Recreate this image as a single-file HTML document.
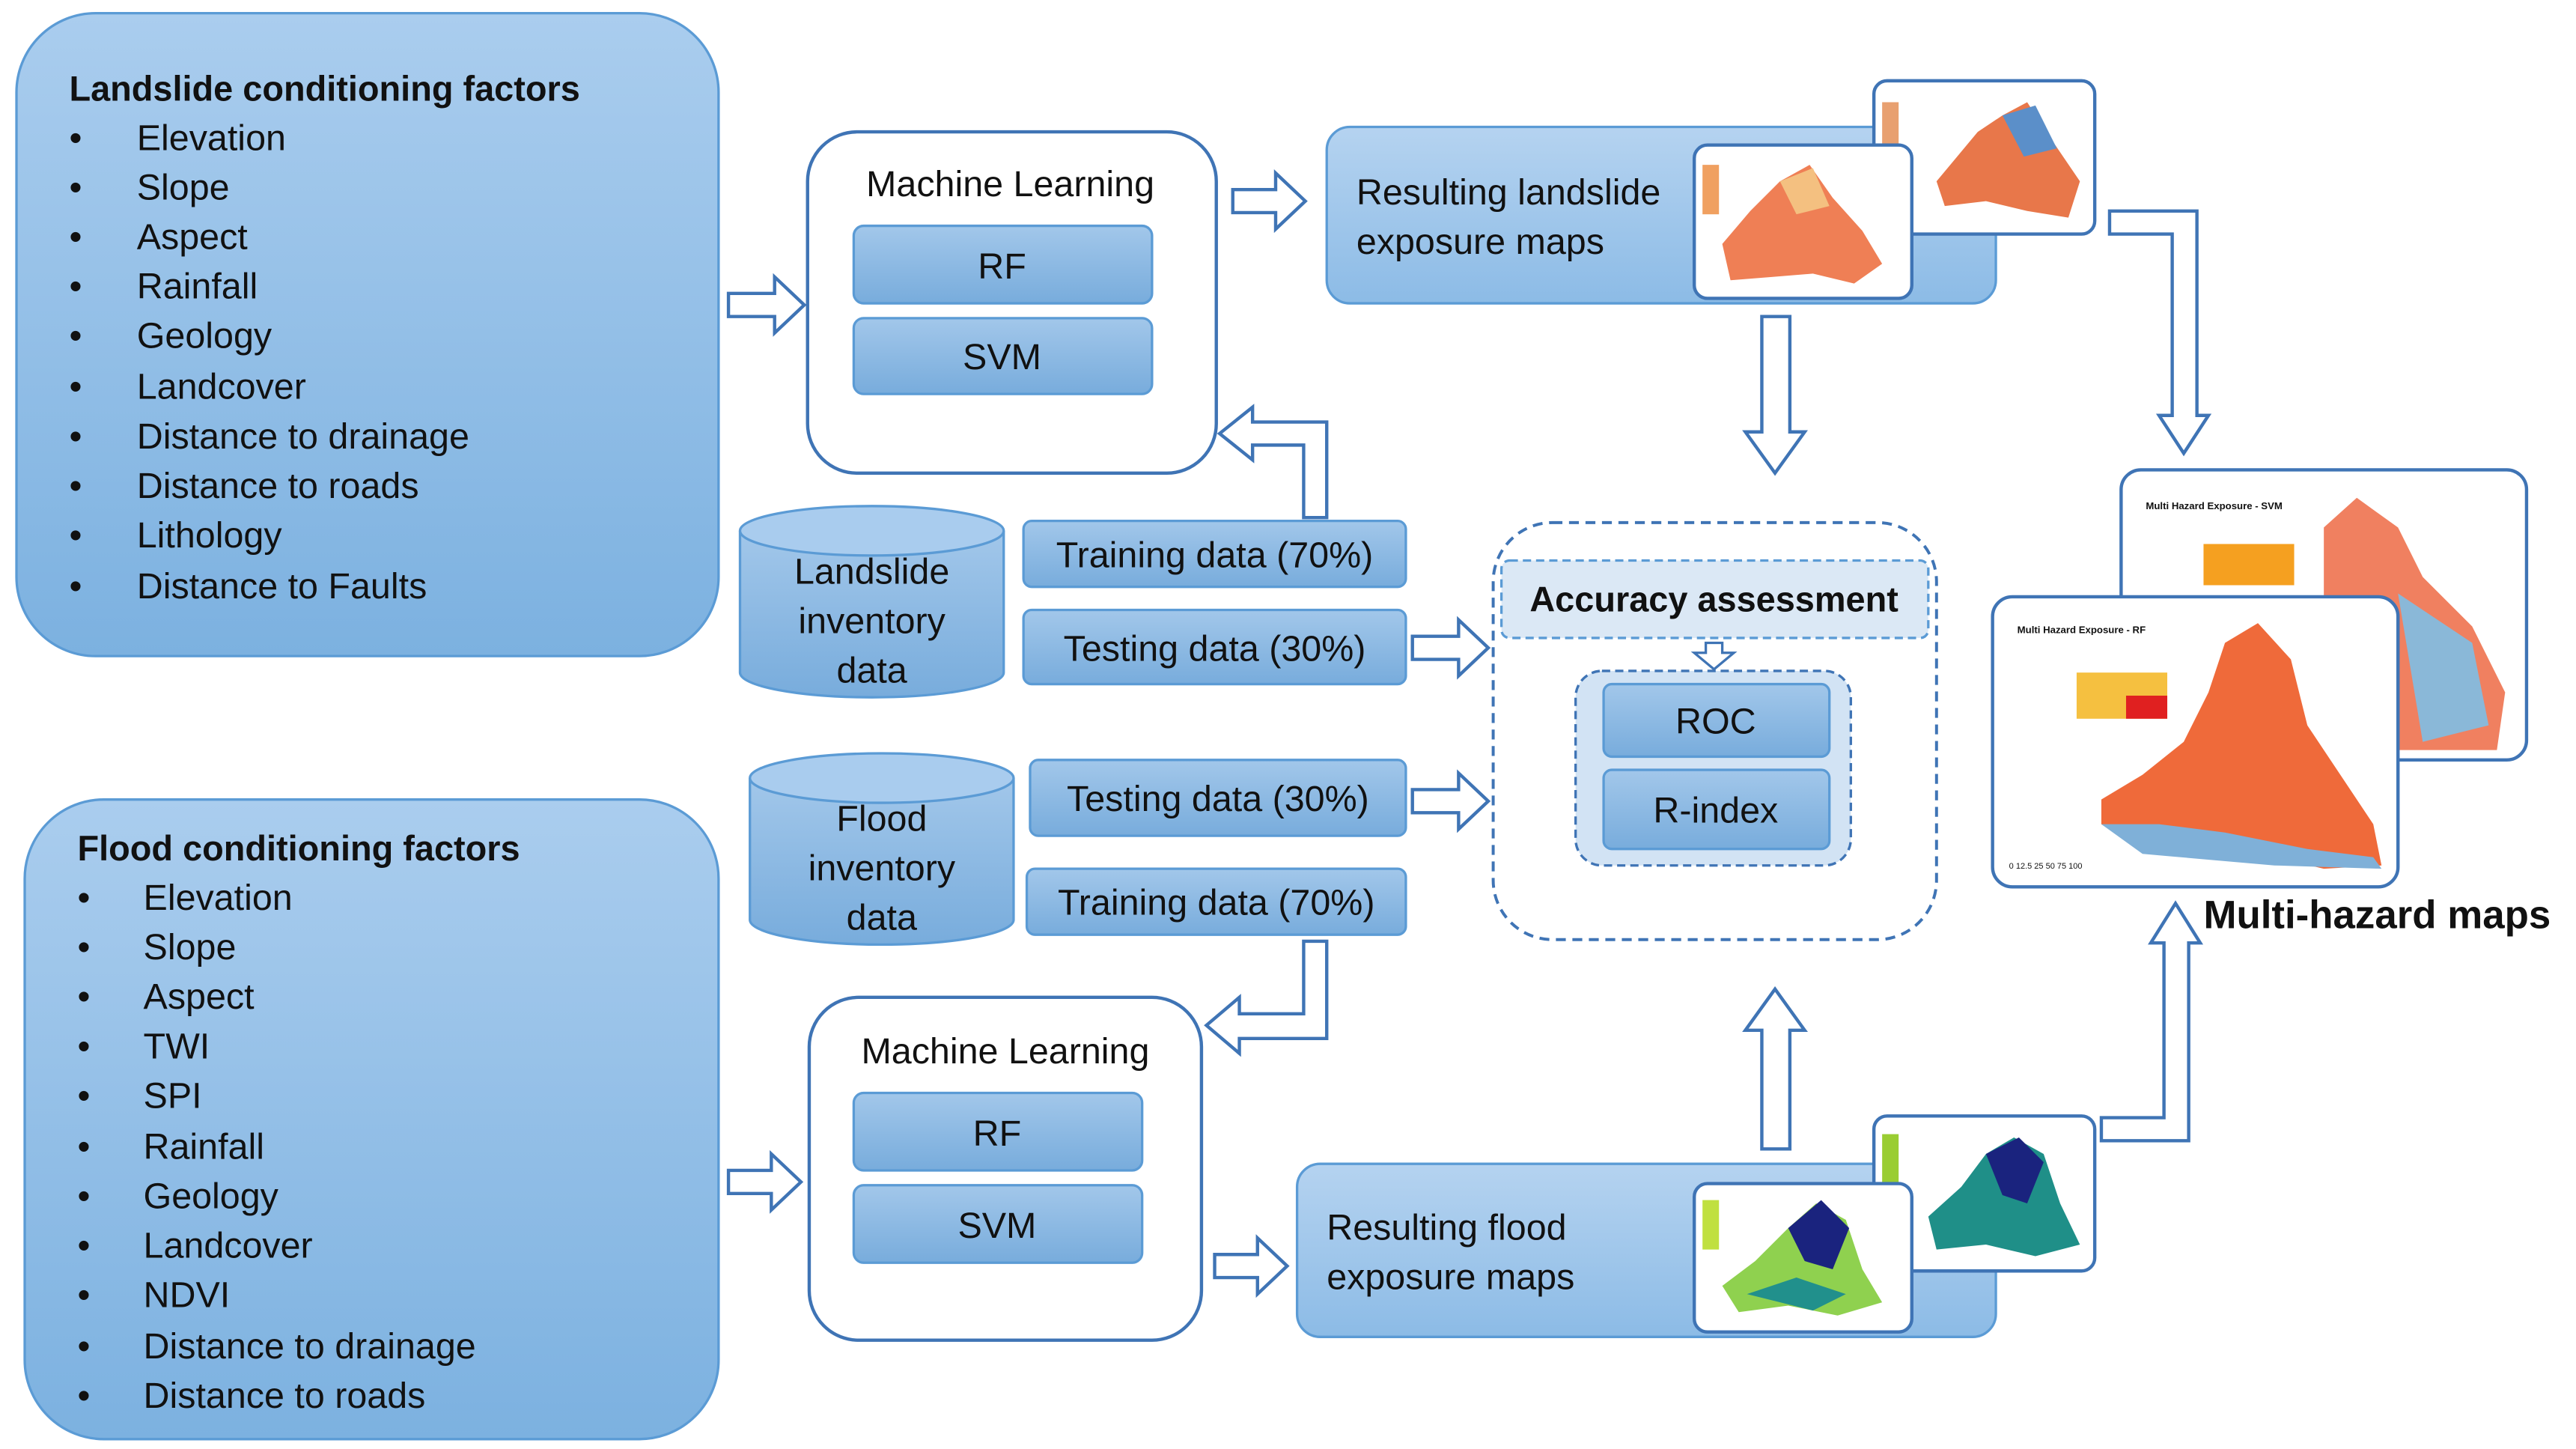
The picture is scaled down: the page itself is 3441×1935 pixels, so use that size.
<!DOCTYPE html>
<html><head><meta charset="utf-8"><style>
html,body{margin:0;padding:0;background:#fff;}
svg{display:block;}
text{font-family:"Liberation Sans",sans-serif;fill:#111;}
</style></head><body>
<svg width="3441" height="1935" viewBox="0 0 1563 879" preserveAspectRatio="none" xmlns="http://www.w3.org/2000/svg">
<defs>
<linearGradient id="g1" x1="0" y1="0" x2="0" y2="1"><stop offset="0" stop-color="#aacdee"/><stop offset="1" stop-color="#7cb1e0"/></linearGradient>
<linearGradient id="g2" x1="0" y1="0" x2="0" y2="1"><stop offset="0" stop-color="#a2c7ea"/><stop offset="1" stop-color="#78acdc"/></linearGradient>
<linearGradient id="g3" x1="0" y1="0" x2="0" y2="1"><stop offset="0" stop-color="#b5d3f0"/><stop offset="1" stop-color="#8cbbe6"/></linearGradient>
</defs>
<style>
.big{font-size:22px;}
.ttl{font-size:21.3px;font-weight:bold;}
.hol{fill:#fff;stroke:#3f74b5;stroke-width:2;}
.bx{stroke:#5b9bd5;stroke-width:1.5;}
</style>

<rect x="10" y="8" width="426" height="390" rx="48" fill="url(#g1)" class="bx"/>
<text x="42" y="61" class="ttl">Landslide conditioning factors</text>
<g class="big">
<text x="42" y="91">•</text><text x="83" y="91">Elevation</text>
<text x="42" y="121">•</text><text x="83" y="121">Slope</text>
<text x="42" y="151">•</text><text x="83" y="151">Aspect</text>
<text x="42" y="181">•</text><text x="83" y="181">Rainfall</text>
<text x="42" y="211">•</text><text x="83" y="211">Geology</text>
<text x="42" y="242">•</text><text x="83" y="242">Landcover</text>
<text x="42" y="272">•</text><text x="83" y="272">Distance to drainage</text>
<text x="42" y="302">•</text><text x="83" y="302">Distance to roads</text>
<text x="42" y="332">•</text><text x="83" y="332">Lithology</text>
<text x="42" y="363">•</text><text x="83" y="363">Distance to Faults</text>
</g>

<rect x="15" y="485" width="421" height="388" rx="48" fill="url(#g1)" class="bx"/>
<text x="47" y="522" class="ttl">Flood conditioning factors</text>
<g class="big">
<text x="47" y="552">•</text><text x="87" y="552">Elevation</text>
<text x="47" y="582">•</text><text x="87" y="582">Slope</text>
<text x="47" y="612">•</text><text x="87" y="612">Aspect</text>
<text x="47" y="642">•</text><text x="87" y="642">TWI</text>
<text x="47" y="672">•</text><text x="87" y="672">SPI</text>
<text x="47" y="703">•</text><text x="87" y="703">Rainfall</text>
<text x="47" y="733">•</text><text x="87" y="733">Geology</text>
<text x="47" y="763">•</text><text x="87" y="763">Landcover</text>
<text x="47" y="793">•</text><text x="87" y="793">NDVI</text>
<text x="47" y="824">•</text><text x="87" y="824">Distance to drainage</text>
<text x="47" y="854">•</text><text x="87" y="854">Distance to roads</text>
</g>

<polygon class="hol" points="442,178 470,178 470,168 488,185 470,202 470,192 442,192"/>
<polygon class="hol" points="442,710 468,710 468,700 486,717 468,734 468,724 442,724"/>
<polygon class="hol" points="748,115 774,115 774,105 792,122 774,139 774,129 748,129"/>
<polygon class="hol" points="737,761 763,761 763,751 781,768 763,785 763,775 737,775"/>
<polygon class="hol" points="857,386 885,386 885,376 903,393 885,410 885,400 857,400"/>
<polygon class="hol" points="857,479 885,479 885,469 903,486 885,503 885,493 857,493"/>

<rect x="490" y="80" width="248" height="207" rx="30" fill="#fff" stroke="#3f74b5" stroke-width="2"/>
<text x="613" y="119" class="big" text-anchor="middle">Machine Learning</text>
<rect x="518" y="137" width="181" height="47" rx="6" fill="url(#g2)" class="bx"/>
<text x="608" y="169" class="big" text-anchor="middle">RF</text>
<rect x="518" y="193" width="181" height="46" rx="6" fill="url(#g2)" class="bx"/>
<text x="608" y="224" class="big" text-anchor="middle">SVM</text>

<rect x="491" y="605" width="238" height="208" rx="30" fill="#fff" stroke="#3f74b5" stroke-width="2"/>
<text x="610" y="645" class="big" text-anchor="middle">Machine Learning</text>
<rect x="518" y="663" width="175" height="47" rx="6" fill="url(#g2)" class="bx"/>
<text x="605" y="695" class="big" text-anchor="middle">RF</text>
<rect x="518" y="719" width="175" height="47" rx="6" fill="url(#g2)" class="bx"/>
<text x="605" y="751" class="big" text-anchor="middle">SVM</text>

<polygon class="hol" points="805,314 791,314 791,270 760,270 760,279 740,263 760,247 760,256 805,256"/>
<polygon class="hol" points="791,571 805,571 805,630 752,630 752,639 732,622 752,605 752,615 791,615"/>

<g>
<path d="M449,322 L449,408 A80,15 0 0 0 609,408 L609,322" fill="url(#g2)" class="bx"/>
<ellipse cx="529" cy="322" rx="80" ry="15" fill="#a9ccee" class="bx"/>
<text x="529" y="354" class="big" text-anchor="middle">Landslide</text>
<text x="529" y="384" class="big" text-anchor="middle">inventory</text>
<text x="529" y="414" class="big" text-anchor="middle">data</text>
</g>
<g>
<path d="M455,472 L455,558 A80,15 0 0 0 615,558 L615,472" fill="url(#g2)" class="bx"/>
<ellipse cx="535" cy="472" rx="80" ry="15" fill="#a9ccee" class="bx"/>
<text x="535" y="504" class="big" text-anchor="middle">Flood</text>
<text x="535" y="534" class="big" text-anchor="middle">inventory</text>
<text x="535" y="564" class="big" text-anchor="middle">data</text>
</g>

<rect x="621" y="316" width="232" height="40" rx="5" fill="url(#g2)" class="bx"/>
<text x="737" y="344" class="big" text-anchor="middle">Training data (70%)</text>
<rect x="621" y="370" width="232" height="45" rx="5" fill="url(#g2)" class="bx"/>
<text x="737" y="401" class="big" text-anchor="middle">Testing data (30%)</text>
<rect x="625" y="461" width="228" height="46" rx="5" fill="url(#g2)" class="bx"/>
<text x="739" y="492" class="big" text-anchor="middle">Testing data (30%)</text>
<rect x="623" y="527" width="230" height="40" rx="5" fill="url(#g2)" class="bx"/>
<text x="738" y="555" class="big" text-anchor="middle">Training data (70%)</text>

<rect x="906" y="317" width="269" height="253" rx="36" fill="#fff" stroke="#3f74b5" stroke-width="1.8" stroke-dasharray="6,4"/>
<rect x="911" y="340" width="259" height="47" rx="5" fill="#dbe8f5" stroke="#5b9bd5" stroke-width="1.5" stroke-dasharray="5,3"/>
<text x="1040" y="371" class="ttl" text-anchor="middle">Accuracy assessment</text>
<polygon class="hol" points="1035,390 1045,390 1045,396 1052,396 1040,406 1028,396 1035,396" style="stroke-width:1.5"/>
<rect x="956" y="407" width="167" height="118" rx="16" fill="#d2e3f4" stroke="#3f74b5" stroke-width="1.5" stroke-dasharray="5,3"/>
<rect x="973" y="415" width="137" height="44" rx="5" fill="url(#g2)" class="bx"/>
<text x="1041" y="445" class="big" text-anchor="middle">ROC</text>
<rect x="973" y="467" width="137" height="48" rx="5" fill="url(#g2)" class="bx"/>
<text x="1041" y="499" class="big" text-anchor="middle">R-index</text>

<polygon class="hol" points="1069,192 1086,192 1086,262 1095,262 1077,287 1059,262 1069,262"/>
<polygon class="hol" points="1069,697 1086,697 1086,625 1095,625 1077,600 1059,625 1069,625"/>
<polygon class="hol" points="1280,128 1333,128 1333,252 1340,252 1325,275 1310,252 1318,252 1318,142 1280,142"/>
<polygon class="hol" points="1275,692 1328,692 1328,572 1335,572 1320,548 1305,572 1313,572 1313,678 1275,678"/>

<rect x="805" y="77" width="406" height="107" rx="14" fill="url(#g3)" class="bx"/>
<text x="823" y="124" class="big">Resulting landslide</text>
<text x="823" y="154" class="big">exposure maps</text>
<rect x="787" y="706" width="424" height="105" rx="14" fill="url(#g3)" class="bx"/>
<text x="805" y="752" class="big">Resulting flood</text>
<text x="805" y="782" class="big">exposure maps</text>

<g>
<rect x="1137" y="49" width="134" height="93" rx="8" fill="#fff" stroke="#3f74b5" stroke-width="2"/>
<path d="M1185,98 L1200,80 L1215,70 L1230,62 L1245,85 L1262,110 L1255,132 L1230,128 L1205,122 L1180,125 L1175,110 Z" fill="#e8774a"/>
<path d="M1215,70 L1235,64 L1248,90 L1228,95 Z" fill="#5b8fc9"/>
<rect x="1142" y="62" width="10" height="30" fill="#e8a070"/>
<rect x="1028" y="88" width="132" height="93" rx="8" fill="#fff" stroke="#3f74b5" stroke-width="2"/>
<path d="M1045,148 L1062,128 L1080,110 L1098,100 L1112,120 L1130,140 L1142,160 L1125,172 L1100,166 L1075,168 L1050,170 Z" fill="#ef7f55"/>
<path d="M1080,110 L1100,102 L1110,125 L1090,130 Z" fill="#f4c080"/>
<rect x="1033" y="100" width="10" height="30" fill="#f0a060"/>
</g>
<g>
<rect x="1137" y="677" width="134" height="94" rx="8" fill="#fff" stroke="#3f74b5" stroke-width="2"/>
<path d="M1170,738 L1190,720 L1205,700 L1222,690 L1240,700 L1250,730 L1262,755 L1235,762 L1205,755 L1175,758 Z" fill="#1f8f88"/>
<path d="M1205,700 L1225,690 L1240,705 L1230,730 L1215,725 Z" fill="#1a237e"/>
<rect x="1142" y="688" width="10" height="30" fill="#9acd32"/>
<rect x="1028" y="718" width="132" height="90" rx="8" fill="#fff" stroke="#3f74b5" stroke-width="2"/>
<path d="M1045,780 L1065,765 L1085,745 L1102,730 L1120,740 L1130,770 L1142,790 L1115,798 L1085,792 L1055,796 Z" fill="#8fd14f"/>
<path d="M1085,745 L1105,728 L1122,745 L1112,770 L1095,765 Z" fill="#1a237e"/>
<path d="M1060,785 L1090,775 L1120,785 L1100,795 Z" fill="#21908c"/>
<rect x="1033" y="728" width="10" height="30" fill="#c0e040"/>
</g>

<g>
<rect x="1287" y="285" width="246" height="176" rx="12" fill="#fff" stroke="#3f74b5" stroke-width="2"/>
<text x="1302" y="309" style="font-size:6px;font-weight:bold">Multi Hazard Exposure - SVM</text>
<rect x="1337" y="330" width="55" height="25" fill="#f5a020"/>
<path d="M1410,320 L1430,302 L1455,320 L1470,350 L1500,380 L1520,420 L1515,455 L1470,455 L1430,455 L1410,430 Z" fill="#f08060"/>
<path d="M1455,360 L1500,390 L1510,440 L1470,450 Z" fill="#8ab8d8"/>
<rect x="1209" y="362" width="246" height="176" rx="12" fill="#fff" stroke="#3f74b5" stroke-width="2"/>
<text x="1224" y="384" style="font-size:6px;font-weight:bold">Multi Hazard Exposure - RF</text>
<rect x="1260" y="408" width="55" height="28" fill="#f5c040"/>
<rect x="1290" y="422" width="25" height="14" fill="#e02020"/>
<path d="M1275,485 L1300,470 L1325,450 L1340,420 L1350,390 L1370,378 L1390,400 L1400,440 L1420,470 L1440,500 L1445,525 L1410,527 L1380,520 L1350,515 L1320,512 L1290,510 L1275,500 Z" fill="#ef6a3a"/>
<path d="M1275,500 L1310,500 L1350,505 L1400,515 L1440,520 L1445,527 L1380,525 L1300,518 Z" fill="#7fb0d8"/>
<text x="1219" y="527" style="font-size:5px">0 12.5 25   50   75   100</text>
</g>
<text x="1337" y="563" style="font-size:24px;font-weight:bold">Multi-hazard maps</text>
</svg>
</body></html>
